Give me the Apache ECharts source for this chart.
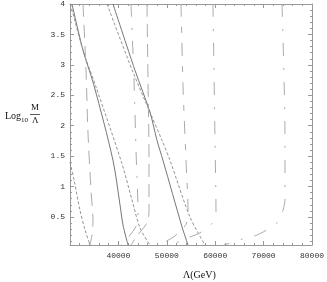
<!DOCTYPE html>
<html><head><meta charset="utf-8">
<script src="https://cdn.jsdelivr.net/npm/echarts@6/dist/echarts.min.js"></script>
<style>html,body{margin:0;padding:0;background:#fff}#c{width:327px;height:282px}</style>
</head><body><div id="c"></div>
<script>
// axis ranges and ticks
const xMin = 30000, xMax = 80000, xStep = 10000;
const yMin = 0.04, yMax = 4;
const yMajorTicks = [0.5, 1, 1.5, 2, 2.5, 3, 3.5, 4];
const yMinorTicks = [0.1,0.2,0.3,0.4,0.6,0.7,0.8,0.9,1.1,1.2,1.3,1.4,1.6,1.7,1.8,1.9,2.1,2.2,2.3,2.4,2.6,2.7,2.8,2.9,3.1,3.2,3.3,3.4,3.6,3.7,3.8,3.9];

// short-dashed curve entering from the left edge
const dashLeftX = [30000, 30826, 32066, 33099, 34132];
const dashLeftY = [1.40, 1.11, 0.61, 0.29, 0.04];
// left solid / dashed pair
const solid1X = [30413, 32686, 34959, 38884, 40331, 40950, 41983];
const solid1Y = [4.0, 3.24, 2.66, 1.43, 0.70, 0.37, 0.04];
const dash1X = [30100, 32686, 35269, 40682, 42810, 44463, 46529];
const dash1Y = [4.0, 3.24, 2.66, 1.39, 0.78, 0.32, 0.04];
// right solid / dashed pair
const solid2X = [38884, 43430, 46529, 47975, 49215, 53140, 54380];
const solid2Y = [4.0, 2.91, 2.22, 1.76, 1.43, 0.34, 0.04];
const dash2X = [37645, 43017, 46529, 49008, 50661, 54793, 57893];
const dash2Y = [4.0, 2.88, 2.22, 1.76, 1.43, 0.50, 0.04];
// near-vertical contours
const c1X = [32686, 33306, 33719, 34339, 34752, 34545, 34132];
const c1Y = [4.0, 2.91, 1.88, 0.94, 0.42, 0.21, 0.04];
const c2X = [42603, 43223, 43636, 44050, 43636, 41983, 40537];
const c2Y = [4.0, 2.75, 1.60, 0.53, 0.35, 0.16, 0.04];
const c3X = [45909, 46116, 46322, 46322, 45702, 43843, 42603];
const c3Y = [4.0, 2.75, 1.43, 0.58, 0.38, 0.19, 0.04];
const c4X = [52934, 53347, 53967, 54380, 53967, 51694, 49628, 48595];
const c4Y = [4.0, 2.66, 1.43, 0.61, 0.38, 0.19, 0.09, 0.04];
const c5X = [59545, 59959, 60165, 59339, 56860, 54380, 52727, 51487];
const c5Y = [4.0, 1.76, 0.52, 0.39, 0.24, 0.16, 0.11, 0.04];
const c6X = [73802, 74421, 74421, 74008, 72975, 70702, 68223, 65744, 63058, 61818];
const c6Y = [4.0, 1.76, 0.81, 0.61, 0.42, 0.29, 0.19, 0.14, 0.07, 0.04];

function zip(a, b) { return a.map((v, i) => [v, b[i]]); }
function line(xs, ys, color, type, w) {
  return { type: 'line', data: zip(xs, ys), showSymbol: false, symbol: 'none', smooth: 0.3,
    clip: true, silent: true, lineStyle: { color: color, width: w, type: type } };
}
const tickFont = { fontFamily: 'Liberation Mono', fontSize: 8, color: '#333' };
const axisCol = '#999';
function xAx(pos, labels) {
  return { type: 'value', position: pos, min: xMin, max: xMax, interval: xStep,
    axisLine: { show: true, lineStyle: { color: axisCol, width: 1 } },
    axisTick: { show: true, inside: true, length: 4, lineStyle: { color: axisCol } },
    minorTick: { show: true, splitNumber: 5, length: 2, lineStyle: { color: axisCol } },
    splitLine: { show: false }, minorSplitLine: { show: false },
    axisLabel: labels ? Object.assign({ show: true, margin: 7,
      formatter: v => (v === xMin ? '' : String(v)) }, tickFont) : { show: false } };
}
function yAx(pos, ticks, len, labels, lineShow) {
  return { type: 'value', position: pos, min: yMin, max: yMax, offset: 0,
    axisLine: { show: lineShow, onZero: false, lineStyle: { color: axisCol, width: 1 } },
    axisTick: { show: true, inside: true, length: len, customValues: ticks, lineStyle: { color: axisCol } },
    splitLine: { show: false },
    axisLabel: labels ? Object.assign({ show: true, margin: 5, customValues: ticks,
      formatter: v => String(v) }, tickFont) : { show: false, customValues: ticks } };
}

const chart = echarts.init(document.getElementById('c'), null, { renderer: 'canvas' });
chart.setOption({
  animation: false,
  backgroundColor: '#fff',
  grid: { left: 70, right: 15, top: 4, bottom: 37, containLabel: false },
  xAxis: [xAx('bottom', true), xAx('top', false)],
  yAxis: [yAx('left', yMajorTicks, 4, true, true), yAx('left', yMinorTicks, 2, false, false),
          yAx('right', yMajorTicks, 4, false, true), yAx('right', yMinorTicks, 2, false, false)],
  series: [
    line(dashLeftX, dashLeftY, '#888', [3, 2], 0.9),
    line(solid1X, solid1Y, '#666', 'solid', 0.9),
    line(dash1X, dash1Y, '#888', [3, 2], 0.9),
    line(solid2X, solid2Y, '#666', 'solid', 0.9),
    line(dash2X, dash2Y, '#888', [3, 2], 0.9),
    line(c1X, c1Y, '#aaa', [13, 8], 1),
    line(c2X, c2Y, '#aaa', [13, 11, 2, 11], 1),
    line(c3X, c3Y, '#aaa', [13, 7], 1),
    line(c4X, c4Y, '#aaa', [13, 10, 6, 10], 1),
    line(c5X, c5Y, '#aaa', [13, 12, 2, 12], 1),
    line(c6X, c6Y, '#aaa', [13, 12, 2, 12], 1)
  ],
  graphic: [
    { type: 'text', left: 5, top: 111, style: { text: 'Log', font: '10px "Liberation Serif"', fill: '#111' } },
    { type: 'text', left: 21, top: 117, style: { text: '10', font: '7px "Liberation Serif"', fill: '#111' } },
    { type: 'text', left: 31, top: 103, style: { text: 'M', font: '9px "Liberation Serif"', fill: '#111' } },
    { type: 'line', shape: { x1: 30, y1: 114.5, x2: 40, y2: 114.5 }, style: { stroke: '#333', lineWidth: 0.8 } },
    { type: 'text', left: 32, top: 116, style: { text: 'Λ', font: '9px "Liberation Serif"', fill: '#111' } },
    { type: 'text', left: 183, top: 270, style: { text: 'Λ(GeV)', font: '10px "Liberation Serif"', fill: '#111' } }
  ]
});
</script></body></html>
